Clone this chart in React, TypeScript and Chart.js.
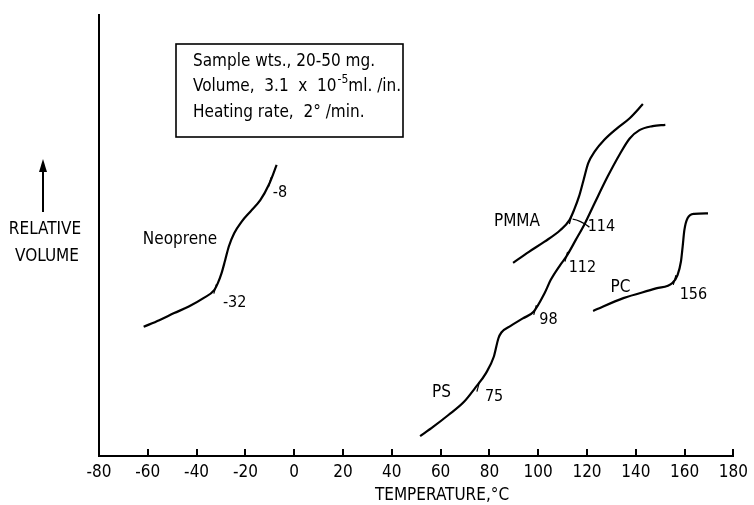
import React, { useEffect, useRef } from "react";
import { Chart, registerables } from "chart.js";

Chart.register(...registerables);

const FONT = '"DejaVu Sans Condensed", "Liberation Sans Narrow", "DejaVu Sans", sans-serif';

// x-axis tick labels (temperature, °C)
const xTicks = [-80, -60, -40, -20, 0, 20, 40, 60, 80, 100, 120, 140, 160, 180];

// Curves: temperature (°C) vs relative volume (arbitrary units 0-100)
const neopreneTemp = [-61.7, -55.3, -49.2, -43.2, -37.2, -32.8, -31.3, -29.8, -28.3, -26.8, -24.6, -21.6, -18.0, -13.9, -10.4, -7.2];
const neopreneVol = [29.3, 30.8, 32.4, 33.9, 35.8, 37.6, 39.2, 41.4, 44.4, 47.5, 50.5, 53.1, 55.4, 58.0, 61.5, 66.0];

const pmmaTemp = [89.7, 96.2, 102.6, 109.0, 112.8, 114.7, 116.7, 118.6, 120.5, 123.1, 127.1, 132.3, 137.5, 142.9];
const pmmaVol = [43.8, 46.3, 48.6, 51.2, 53.5, 55.8, 58.8, 62.6, 66.4, 69.0, 71.7, 74.3, 76.6, 79.8];

const psTemp = [51.6, 56.9, 63.2, 69.6, 74.1, 78.6, 81.8, 83.7, 84.9, 88.7, 93.7, 98.1, 102.6, 105.1, 109.0, 111.5, 115.4, 119.2, 123.1, 128.4, 133.6, 137.5, 141.5, 146.9, 152.1];
const psVol = [4.5, 6.6, 9.3, 12.3, 15.4, 18.8, 22.5, 26.7, 28.0, 29.5, 31.2, 32.7, 36.9, 39.9, 43.3, 45.2, 49.0, 52.8, 57.3, 63.3, 68.6, 72.0, 73.9, 74.8, 75.1];

const pcTemp = [122.5, 134.9, 148.3, 155.1, 157.1, 158.5, 159.2, 159.9, 161.2, 163.9, 169.6];
const pcVol = [32.9, 35.8, 38.0, 39.3, 41.0, 44.1, 47.5, 51.2, 53.9, 54.9, 55.0];

// Transition (Tg) marks on the curves
const transitionLabels = ["-32", "-8", "75", "98", "112", "114", "156"];
const transitionTemp = [-32.4, -10.0, 75.4, 98.7, 111.5, 113.3, 155.9];
const transitionVol = [37.9, 62.1, 15.7, 33.1, 45.2, 53.7, 39.9];
const transitionLabelTemp = [-24.4, -5.8, 81.9, 104.2, 118.1, 125.9, 163.6];
const transitionLabelVol = [34.7, 59.6, 13.4, 30.8, 42.6, 51.9, 36.5];

// Curve names
const curveNames = ["Neoprene", "PMMA", "PS", "PC"];
const curveNameTemp = [-46.8, 91.3, 60.4, 133.7];
const curveNameVol = [49.0, 53.1, 14.3, 38.3];

const boxLines = ["Sample wts., 20-50 mg.", "Volume,  3.1  x  10", "Heating rate,  2° /min."];

const zip = (xs: number[], ys: number[]) => xs.map((x, i) => ({ x, y: ys[i] }));

const curve = (label: string, xs: number[], ys: number[]) => ({
  type: "line" as const,
  label,
  data: zip(xs, ys),
  borderColor: "#000",
  borderWidth: 2.2,
  pointRadius: 0,
  fill: false,
  cubicInterpolationMode: "monotone" as const,
});

const decorPlugin = {
  id: "decor",
  afterDraw(chart: any) {
    const { ctx, chartArea, scales } = chart;
    const xs = scales.x;
    const ys = scales.y;
    ctx.save();
    ctx.fillStyle = "#000";
    ctx.strokeStyle = "#000";

    // inward tick marks on x axis
    ctx.lineWidth = 2;
    xs.ticks.forEach((t: any) => {
      const px = Math.round(xs.getPixelForValue(t.value));
      ctx.beginPath();
      ctx.moveTo(px, chartArea.bottom);
      ctx.lineTo(px, chartArea.bottom - 7);
      ctx.stroke();
    });

    // curve names
    ctx.font = `17px ${FONT}`;
    ctx.textAlign = "center";
    ctx.textBaseline = "middle";
    curveNames.forEach((n, i) => {
      ctx.fillText(n, xs.getPixelForValue(curveNameTemp[i]), ys.getPixelForValue(curveNameVol[i]));
    });

    // transition labels
    ctx.font = `16px ${FONT}`;
    transitionLabels.forEach((n, i) => {
      ctx.fillText(n, xs.getPixelForValue(transitionLabelTemp[i]), ys.getPixelForValue(transitionLabelVol[i]));
    });

    // small leader from "114" to the PMMA knee
    const i114 = transitionLabels.indexOf("114");
    const lx = xs.getPixelForValue(transitionLabelTemp[i114]) - 12;
    const ly = ys.getPixelForValue(transitionLabelVol[i114]);
    const kx = xs.getPixelForValue(transitionTemp[i114]);
    const ky = ys.getPixelForValue(transitionVol[i114]);
    ctx.lineWidth = 1.3;
    ctx.beginPath();
    ctx.moveTo(lx, ly);
    ctx.quadraticCurveTo((lx + kx) / 2, ky + 1, kx + 2, ky);
    ctx.stroke();

    // annotation box
    ctx.lineWidth = 1.6;
    ctx.strokeRect(176, 44, 227, 93);
    ctx.font = `17px ${FONT}`;
    ctx.textAlign = "left";
    ctx.textBaseline = "middle";
    const tx = 193;
    ctx.fillText(boxLines[0], tx, 62);
    ctx.fillText(boxLines[1], tx, 87);
    const w = ctx.measureText(boxLines[1]).width;
    ctx.font = `12px ${FONT}`;
    ctx.fillText("-5", tx + w + 1, 80);
    const w2 = ctx.measureText("-5").width;
    ctx.font = `17px ${FONT}`;
    ctx.fillText("ml. /in.", tx + w + w2 + 1, 87);
    ctx.fillText(boxLines[2], tx, 113);

    // y axis label and arrow
    ctx.textAlign = "center";
    ctx.font = `17px ${FONT}`;
    ctx.fillText("RELATIVE", 45, 230);
    ctx.fillText("VOLUME", 47, 257);
    ctx.lineWidth = 2;
    ctx.beginPath();
    ctx.moveTo(43, 212);
    ctx.lineTo(43, 168);
    ctx.stroke();
    ctx.beginPath();
    ctx.moveTo(43, 159);
    ctx.lineTo(39, 172);
    ctx.lineTo(47, 172);
    ctx.closePath();
    ctx.fill();

    // x axis title
    ctx.font = `17px ${FONT}`;
    ctx.fillText("TEMPERATURE,°C", 442, 496);

    ctx.restore();
  },
};

export default function App() {
  const ref = useRef<HTMLCanvasElement | null>(null);

  useEffect(() => {
    if (!ref.current) return;
    const chart = new Chart(ref.current, {
      type: "line",
      data: {
        datasets: [
          curve("Neoprene", neopreneTemp, neopreneVol),
          curve("PMMA", pmmaTemp, pmmaVol),
          curve("PS", psTemp, psVol),
          curve("PC", pcTemp, pcVol),
          {
            type: "scatter" as const,
            label: "Tg",
            data: zip(transitionTemp, transitionVol),
            showLine: false,
            pointStyle: "line",
            pointRadius: 5,
            pointRotation: -75,
            borderColor: "#000",
            pointBorderColor: "#000",
            pointBorderWidth: 1.2,
            borderWidth: 1.2,
          } as any,
        ],
      },
      options: {
        animation: false,
        responsive: false,
        layout: { padding: { left: 99, right: 12, top: 15, bottom: 0 } },
        plugins: { legend: { display: false }, tooltip: { enabled: false } },
        scales: {
          x: {
            type: "linear",
            min: -80,
            max: 180,
            afterBuildTicks: (s: any) => {
              s.ticks = xTicks.map((v) => ({ value: v }));
            },
            afterFit: (s: any) => {
              s.height = 49;
            },
            grid: { display: false, drawTicks: false },
            border: { display: true, color: "#000", width: 2 },
            ticks: {
              color: "#000",
              font: { family: FONT, size: 17 },
              padding: 6,
              maxRotation: 0,
              autoSkip: false,
            },
          },
          y: {
            type: "linear",
            min: 0,
            max: 100,
            afterFit: (s: any) => {
              s.width = 0;
            },
            grid: { display: false, drawTicks: false },
            border: { display: true, color: "#000", width: 2 },
            ticks: { display: false },
          },
        },
      },
      plugins: [decorPlugin],
    });
    return () => chart.destroy();
  }, []);

  return (
    <div style={{ position: "fixed", left: 0, top: 0, width: 754, height: 505, background: "#fff" }}>
      <canvas ref={ref} width={754} height={505} style={{ display: "block" }} />
    </div>
  );
}
